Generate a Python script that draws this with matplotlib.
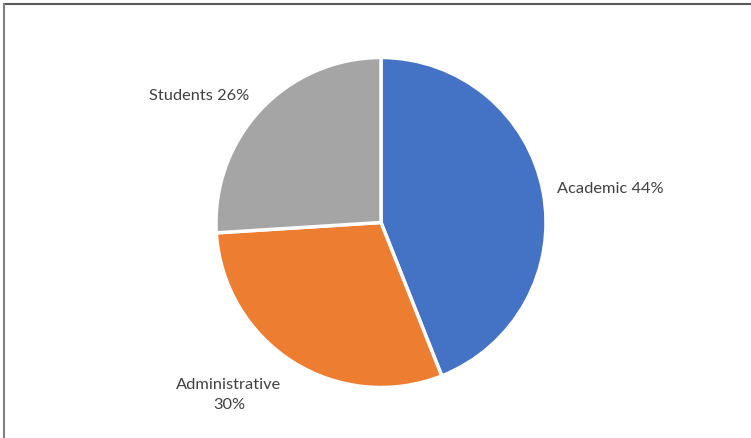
import matplotlib
matplotlib.use("Agg")
import matplotlib.pyplot as plt
from matplotlib.lines import Line2D

categories = ["Academic", "Administrative", "Students"]
shares = [44, 30, 26]
colors = ["#4472C4", "#ED7D31", "#A5A5A5"]

W, H = 751, 439
fig = plt.figure(figsize=(W / 100, H / 100), dpi=100)
fig.patch.set_facecolor("white")
ax = fig.add_axes([0, 0, 1, 1])

cx, cy, r = 381, H - 223.5, 165
ax.pie(shares, colors=colors, startangle=90, counterclock=False,
       center=(cx, cy), radius=r,
       wedgeprops=dict(edgecolor="white", linewidth=2.5))
ax.set_xlim(0, W)
ax.set_ylim(0, H)
ax.set_aspect("equal")
ax.axis("off")

font = dict(family=["Lato", "DejaVu Sans"], fontsize=11.8, color="#404040")
label_pos = {
    "Academic": (610, 189, "{} {}%"),
    "Administrative": (229, 395, "{}\n{}%"),
    "Students": (199, 96, "{} {}%"),
}
for name, val in zip(categories, shares):
    x, y, fmt = label_pos[name]
    ax.text(x, H - y, fmt.format(name, val), ha="center", va="center",
            linespacing=1.55, **font)

# chart area border (top and left edges)
fig.add_artist(Line2D([4 / W, 1], [1 - 5 / H, 1 - 5 / H],
                      transform=fig.transFigure, color="#595959", lw=1.5))
fig.add_artist(Line2D([4 / W, 4 / W], [0, 1 - 5 / H],
                      transform=fig.transFigure, color="#7f7f7f", lw=1.5))

fig.savefig("out.png", dpi=100)
